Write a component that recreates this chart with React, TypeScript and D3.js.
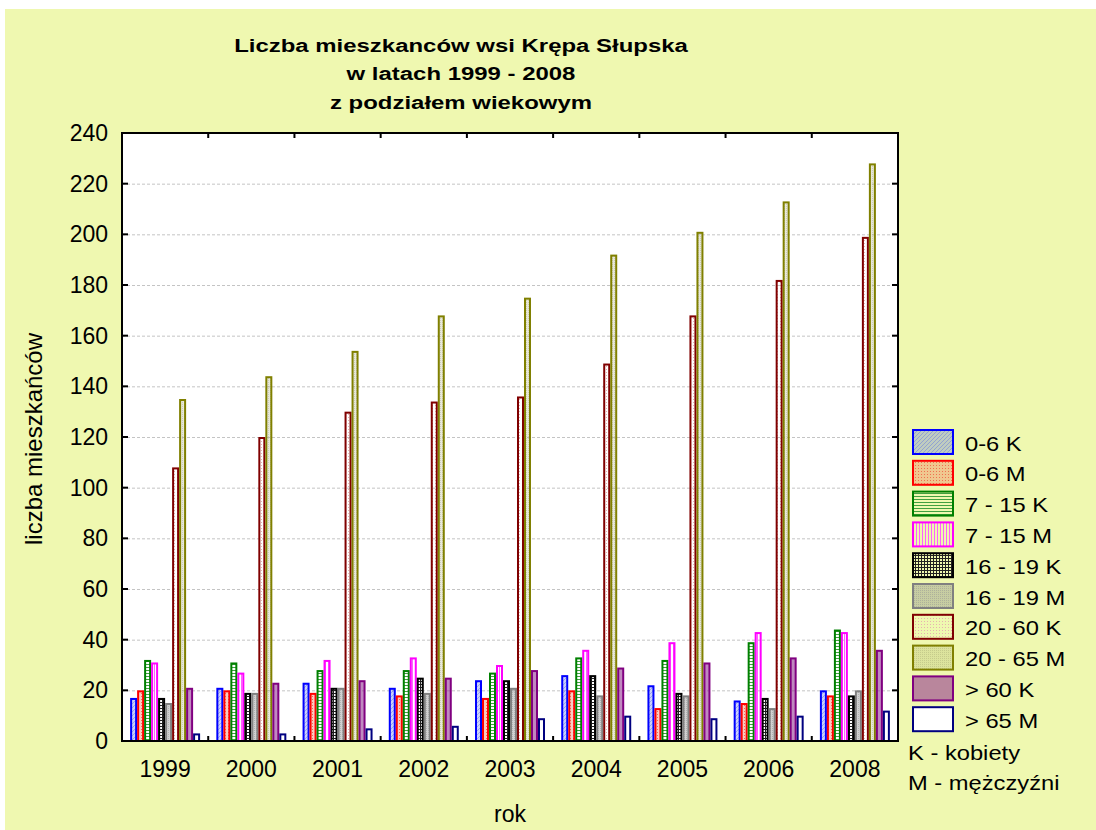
import * as d3 from "d3";
import { useEffect, useRef } from "react";

const years = ["1999", "2000", "2001", "2002", "2003", "2004", "2005", "2006", "2008"];
const seriesNames = ["0-6 K", "0-6 M", "7 - 15 K", "7 - 15 M", "16 - 19 K", "16 - 19 M", "20 - 60 K", "20 - 65 M", "> 60 K", "> 65 M"];

const k0_6 = [17, 21, 23, 21, 24, 26, 22, 16, 20];
const m0_6 = [20, 20, 19, 18, 17, 20, 13, 15, 18];
const k7_15 = [32, 31, 28, 28, 27, 33, 32, 39, 44];
const m7_15 = [31, 27, 32, 33, 30, 36, 39, 43, 43];
const k16_19 = [17, 19, 21, 25, 24, 26, 19, 17, 18];
const m16_19 = [15, 19, 21, 19, 21, 18, 18, 13, 20];
const k20_60 = [108, 120, 130, 134, 136, 149, 168, 182, 199];
const m20_65 = [135, 144, 154, 168, 175, 192, 201, 213, 228];
const k60 = [21, 23, 24, 25, 28, 29, 31, 33, 36];
const m65 = [3, 3, 5, 6, 9, 10, 9, 10, 12];

const seriesValues = [k0_6, m0_6, k7_15, m7_15, k16_19, m16_19, k20_60, m20_65, k60, m65];
const yTicks = [0, 20, 40, 60, 80, 100, 120, 140, 160, 180, 200, 220, 240];
const titleLines = ["Liczba mieszkanców wsi Krępa Słupska", "w latach 1999 - 2008", "z podziałem wiekowym"];
const noteLines = ["K - kobiety", "M - mężczyźni"];

const strokes = ["#0000ff", "#ff0000", "#008000", "#ff00ff", "#000000", "#808080", "#800000", "#808000", "#800080", "#000080"];

const FONT = "'Liberation Sans', Arial, sans-serif";

const App = () => {
    const svgRef = useRef(null);

    useEffect(() => {
        if (!svgRef.current) return;
        const svg = d3.select(svgRef.current);
        svg.selectAll("*").remove();

        const margin = { left: 122, right: 898, top: 133, bottom: 741 };

        // patterns (partly transparent, so the legend picks up the yellow)
        const defs = svg.append("defs");
        const pat = (id, w, h) => defs.append("pattern")
            .attr("id", id).attr("patternUnits", "userSpaceOnUse")
            .attr("width", w).attr("height", h);

        let p = pat("p0", 4, 4);
        p.append("rect").attr("width", 4).attr("height", 4).attr("fill", "rgba(70,90,235,0.28)");
        p.append("path").attr("d", "M0,4 L4,0 M-1,1 L1,-1 M3,5 L5,3").attr("stroke", "rgba(90,110,230,0.45)").attr("stroke-width", 1);

        p = pat("p1", 3, 3);
        p.append("rect").attr("width", 3).attr("height", 3).attr("fill", "rgba(240,110,80,0.35)");
        p.append("rect").attr("width", 1).attr("height", 1).attr("fill", "#f07050");

        p = pat("p2", 3, 3);
        p.append("rect").attr("y", 1).attr("width", 3).attr("height", 1).attr("fill", "#40a040");

        p = pat("p3", 3, 3);
        p.append("rect").attr("x", 1).attr("width", 1).attr("height", 3).attr("fill", "#ff60ff");

        p = pat("p4", 3, 3);
        p.append("rect").attr("width", 3).attr("height", 1).attr("fill", "#202020");
        p.append("rect").attr("width", 1).attr("height", 3).attr("fill", "#202020");

        p = pat("p5", 2, 2);
        p.append("rect").attr("width", 2).attr("height", 2).attr("fill", "rgba(140,140,140,0.4)");
        p.append("rect").attr("width", 1).attr("height", 1).attr("fill", "rgba(150,150,150,0.5)");

        p = pat("p6", 3, 3);
        p.append("rect").attr("width", 1).attr("height", 1).attr("fill", "#e8b0b0");

        p = pat("p7", 2, 2);
        p.append("rect").attr("width", 2).attr("height", 2).attr("fill", "rgba(150,150,90,0.22)");
        p.append("rect").attr("width", 1).attr("height", 1).attr("fill", "rgba(150,150,100,0.3)");

        p = pat("p8", 2, 2);
        p.append("rect").attr("width", 2).attr("height", 2).attr("fill", "rgba(140,40,140,0.55)");

        p = pat("p9", 2, 2);
        p.append("rect").attr("width", 2).attr("height", 2).attr("fill", "#ffffff");

        // background
        svg.append("rect").attr("x", 5).attr("y", 9).attr("width", 1091).attr("height", 821).attr("fill", "#eff8b0");
        svg.append("rect")
            .attr("x", margin.left).attr("y", margin.top)
            .attr("width", margin.right - margin.left).attr("height", margin.bottom - margin.top)
            .attr("fill", "#ffffff");

        const x = d3.scaleBand().domain(years).range([margin.left, margin.right]).paddingInner(0).paddingOuter(0);
        const xInner = d3.scaleBand().domain(seriesNames).range([0, x.bandwidth()]).paddingInner(0).paddingOuter(1.16);
        const y = d3.scaleLinear().domain([0, 240]).range([margin.bottom, margin.top]);

        // grid
        svg.append("g").selectAll("line")
            .data(yTicks.slice(1, -1))
            .enter().append("line")
            .attr("x1", margin.left).attr("x2", margin.right)
            .attr("y1", d => y(d) + 0.5).attr("y2", d => y(d) + 0.5)
            .attr("stroke", "#c4c4c4").attr("stroke-width", 1).attr("stroke-dasharray", "3,2");

        // bars
        const bars = svg.append("g");
        seriesValues.forEach((vals, si) => {
            bars.selectAll(".s" + si)
                .data(vals)
                .enter().append("rect")
                .attr("x", (d, i) => x(years[i]) + xInner(seriesNames[si]) + 1)
                .attr("y", d => y(d) + 1)
                .attr("width", xInner.bandwidth() - 2)
                .attr("height", d => Math.max(0, margin.bottom - y(d) - 1))
                .attr("fill", `url(#p${si})`)
                .attr("stroke", strokes[si])
                .attr("stroke-width", 2);
        });

        // frame
        const axisCol = "#000";
        svg.append("path")
            .attr("d", `M${margin.left},${margin.top} H${margin.right} V${margin.bottom} H${margin.left} Z`)
            .attr("fill", "none").attr("stroke", axisCol).attr("stroke-width", 2);

        // y ticks inward both sides
        const yt = svg.append("g");
        yTicks.forEach(t => {
            yt.append("line").attr("x1", margin.left).attr("x2", margin.left + 6)
                .attr("y1", y(t)).attr("y2", y(t)).attr("stroke", axisCol).attr("stroke-width", 2);
            yt.append("line").attr("x1", margin.right - 6).attr("x2", margin.right)
                .attr("y1", y(t)).attr("y2", y(t)).attr("stroke", axisCol).attr("stroke-width", 2);
            yt.append("text").attr("x", 108).attr("y", y(t) + 8)
                .attr("text-anchor", "end").attr("font-family", FONT).attr("font-size", 23)
                .text(t);
        });

        // x ticks at group boundaries
        years.slice(1).forEach(yr => {
            const xx = x(yr);
            yt.append("line").attr("x1", xx).attr("x2", xx).attr("y1", margin.bottom).attr("y2", margin.bottom - 5)
                .attr("stroke", axisCol).attr("stroke-width", 2);
            yt.append("line").attr("x1", xx).attr("x2", xx).attr("y1", margin.top).attr("y2", margin.top + 5)
                .attr("stroke", axisCol).attr("stroke-width", 2);
        });
        years.forEach(yr => {
            yt.append("text").attr("x", x(yr) + x.bandwidth() / 2).attr("y", 777)
                .attr("text-anchor", "middle").attr("font-family", FONT).attr("font-size", 23)
                .text(yr);
        });

        // axis titles
        svg.append("text").attr("x", 510).attr("y", 822).attr("text-anchor", "middle")
            .attr("font-family", FONT).attr("font-size", 23).text("rok");
        svg.append("text")
            .attr("transform", "translate(42,439) rotate(-90)")
            .attr("text-anchor", "middle").attr("font-family", FONT).attr("font-size", 24)
            .text("liczba mieszkańców");

        // title (the original is a wide-stretched bold face)
        titleLines.forEach((t, i) => {
            svg.append("text")
                .attr("transform", `translate(461,${51.5 + i * 28.5}) scale(1.26,1)`)
                .attr("text-anchor", "middle").attr("font-family", FONT)
                .attr("font-size", 19).attr("font-weight", "bold").text(t);
        });

        // legend
        const lg = svg.append("g");
        seriesNames.forEach((name, i) => {
            const ly = 430 + i * 30.8;
            lg.append("rect").attr("x", 913).attr("y", ly).attr("width", 40).attr("height", 24)
                .attr("fill", `url(#p${i})`).attr("stroke", strokes[i]).attr("stroke-width", 2);
            lg.append("text").attr("transform", `translate(965,${ly + 20.5}) scale(1.13,1)`)
                .attr("font-family", FONT).attr("font-size", 21).text(name);
        });
        noteLines.forEach((t, i) => {
            lg.append("text").attr("transform", `translate(908,${760 + i * 30}) scale(1.13,1)`)
                .attr("font-family", FONT).attr("font-size", 21).text(t);
        });
    }, []);

    return (
        <svg
            ref={svgRef}
            width={1096}
            height={830}
            style={{ position: "absolute", left: 0, top: 0, display: "block" }}
        />
    );
};

export default App;
